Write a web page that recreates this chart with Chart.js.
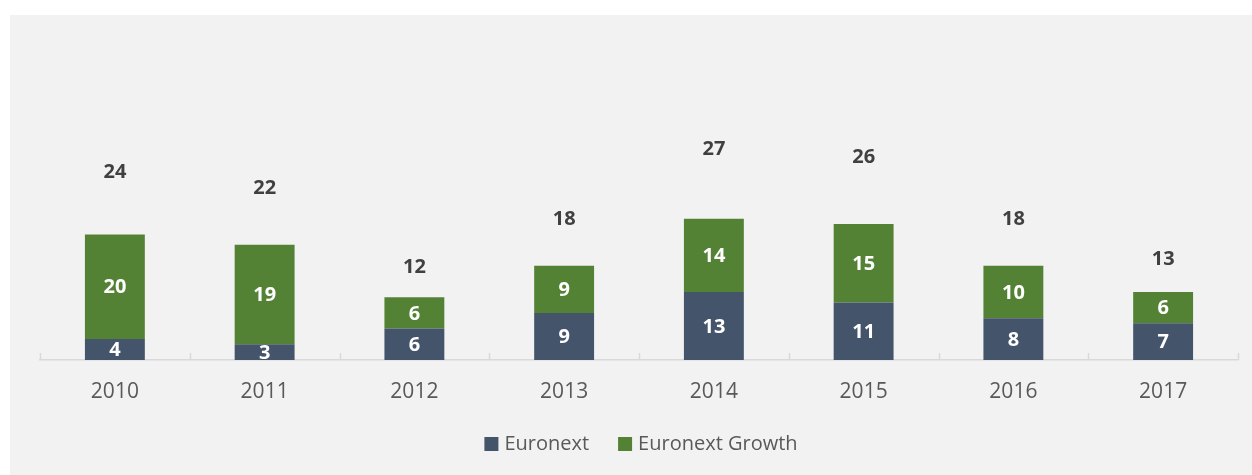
<!DOCTYPE html>
<html>
<head>
<meta charset="utf-8">
<script src="https://cdn.jsdelivr.net/npm/chart.js@4/dist/chart.umd.min.js"></script>
<style>
  html, body { margin: 0; padding: 0; background: #ffffff; }
  #wrap { position: absolute; left: 10px; top: 15px; width: 1242px; height: 460px; background: #f2f2f2; }
</style>
</head>
<body>
<div id="wrap"><canvas id="ipoChart"></canvas></div>
<script>
const years = ["2010", "2011", "2012", "2013", "2014", "2015", "2016", "2017"];
const euronext = [4, 3, 6, 9, 13, 11, 8, 7];
const euronextGrowth = [20, 19, 6, 9, 14, 15, 10, 6];
const totals = [24, 22, 12, 18, 27, 26, 18, 13];

const FONT = "'Open Sans', sans-serif";

// value labels in the middle of each segment
const segmentLabels = {
  id: "segmentLabels",
  afterDatasetsDraw(chart) {
    const ctx = chart.ctx;
    ctx.save();
    ctx.textAlign = "center";
    ctx.textBaseline = "middle";
    chart.data.datasets.forEach((ds, i) => {
      const meta = chart.getDatasetMeta(i);
      meta.data.forEach((bar, j) => {
        const y = (bar.y + bar.base) / 2;
        ctx.font = "bold 20px " + FONT;
        ctx.fillStyle = ds.isTotal ? "#404040" : "#ffffff";
        ctx.fillText(ds.data[j], bar.x, y + 1);
      });
    });
    ctx.restore();
  }
};

// small tick marks above the axis at category edges
const axisTicks = {
  id: "axisTicks",
  afterDraw(chart) {
    const x = chart.scales.x;
    const ctx = chart.ctx;
    const bottom = chart.chartArea.bottom;
    const step = (x.right - x.left) / years.length;
    ctx.save();
    ctx.strokeStyle = "#d9d9d9";
    ctx.lineWidth = 1.5;
    for (let i = 0; i <= years.length; i++) {
      const px = Math.round(x.left + i * step) + 0.5;
      ctx.beginPath();
      ctx.moveTo(px, bottom - 7);
      ctx.lineTo(px, bottom);
      ctx.stroke();
    }
    ctx.restore();
  }
};

// legend drawn by hand so the spacing can match (only the two real series)
const bottomLegend = {
  id: "bottomLegend",
  afterDraw(chart) {
    const ctx = chart.ctx;
    const items = chart.data.datasets.filter((ds) => !ds.isTotal);
    const box = 14, gap = 6, spacing = 29;
    ctx.save();
    ctx.font = "20px " + FONT;
    ctx.textBaseline = "middle";
    ctx.textAlign = "left";
    const widths = items.map((ds) => ctx.measureText(ds.label).width);
    let total = widths.reduce((a, w) => a + box + gap + w, 0) + spacing * (items.length - 1);
    let x = (chart.chartArea.left + chart.chartArea.right) / 2 - total / 2 + 2;
    const y = chart.height - 31;
    items.forEach((ds, i) => {
      ctx.fillStyle = ds.backgroundColor;
      ctx.fillRect(x, y - box / 2, box, box);
      ctx.fillStyle = "#595959";
      ctx.fillText(ds.label, x + box + gap, y);
      x += box + gap + widths[i] + spacing;
    });
    ctx.restore();
  }
};

const ctx = document.getElementById("ipoChart").getContext("2d");
new Chart(ctx, {
  type: "bar",
  data: {
    labels: years,
    datasets: [
      {
        label: "Euronext",
        data: euronext,
        backgroundColor: "#44546a",
        barPercentage: 0.4,
        categoryPercentage: 1
      },
      {
        label: "Euronext Growth",
        data: euronextGrowth,
        backgroundColor: "#548235",
        barPercentage: 0.4,
        categoryPercentage: 1
      },
      {
        label: "Total",
        data: totals,
        isTotal: true,
        backgroundColor: "rgba(0,0,0,0)",
        barPercentage: 0.4,
        categoryPercentage: 1
      }
    ]
  },
  options: {
    responsive: true,
    maintainAspectRatio: false,
    animation: false,
    layout: { padding: { left: 30, right: 14, top: 31, bottom: 67 } },
    plugins: {
      tooltip: { enabled: false },
      legend: { display: false }
    },
    scales: {
      x: {
        stacked: true,
        grid: { display: false },
        border: { color: "#d9d9d9", width: 1.5 },
        ticks: { color: "#595959", font: { family: FONT, size: 21 }, padding: 11 },
        afterFit: (scale) => { scale.height = 48; }
      },
      y: {
        stacked: true,
        display: false,
        min: 0,
        max: 60
      }
    }
  },
  plugins: [segmentLabels, axisTicks, bottomLegend]
});
</script>
</body>
</html>
